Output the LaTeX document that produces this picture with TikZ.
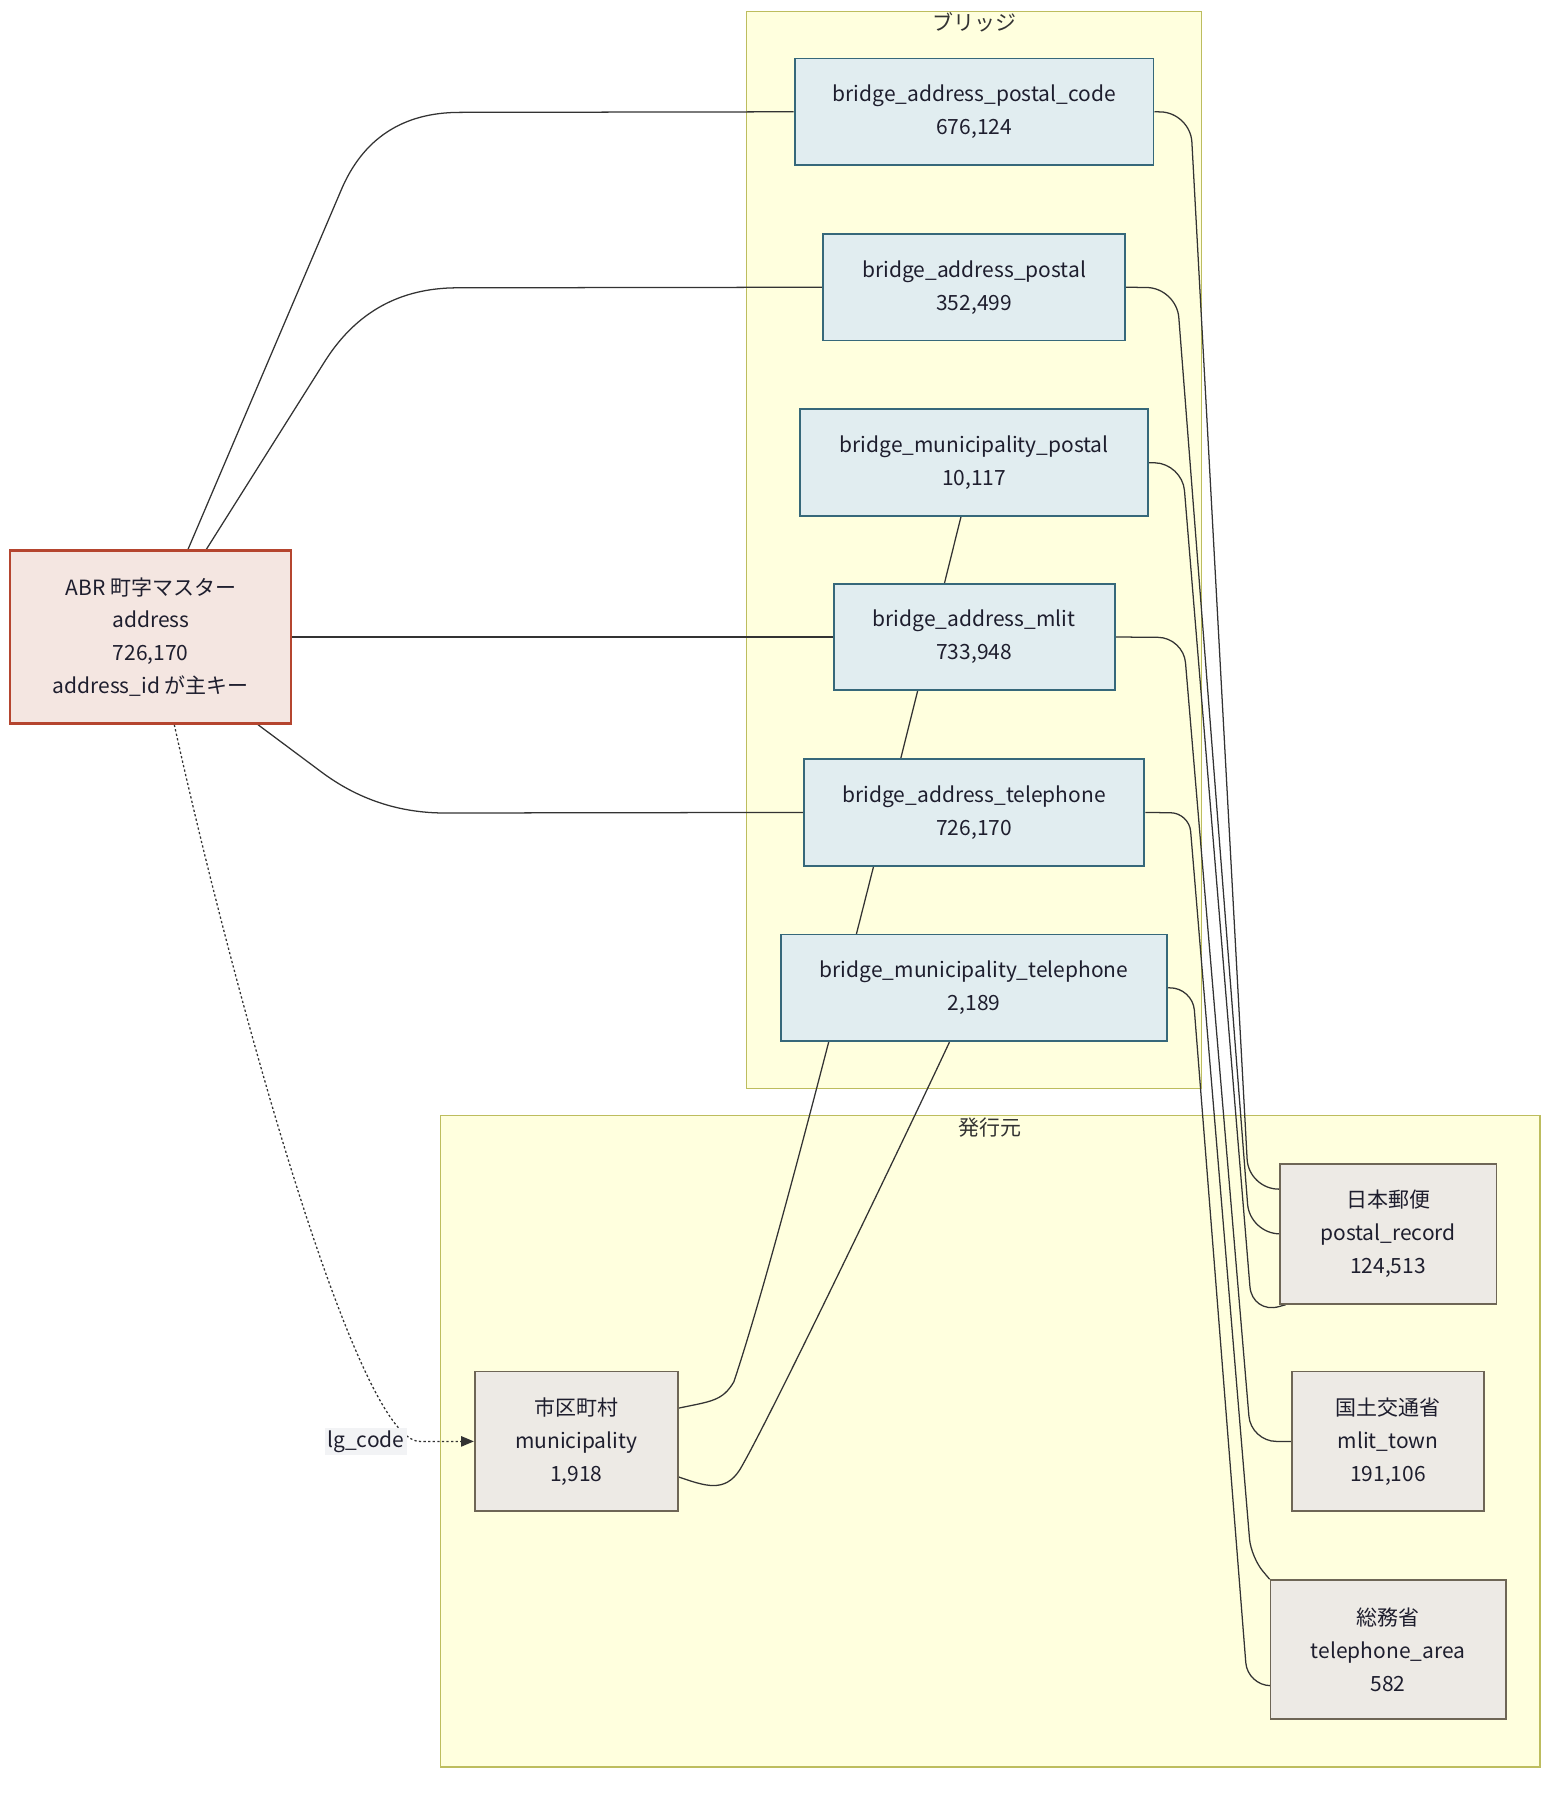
\documentclass[tikz,border=0pt]{standalone}
\usepackage{fontspec}
\setmainfont{Noto Sans CJK JP}
\usetikzlibrary{arrows.meta}
\definecolor{grpfill}{HTML}{FFFFDE}
\definecolor{grpline}{HTML}{BDBD5E}
\definecolor{brgfill}{HTML}{E1EDF0}
\definecolor{brgline}{HTML}{36687A}
\definecolor{abrfill}{HTML}{F4E6E1}
\definecolor{abrline}{HTML}{B5452F}
\definecolor{srcfill}{HTML}{EDEAE5}
\definecolor{srcline}{HTML}{6E6656}
\definecolor{txt}{HTML}{1E1E2E}
\definecolor{lbl}{HTML}{333333}
\definecolor{edgecol}{HTML}{333333}
\definecolor{tagbg}{HTML}{F2F3F5}
\pgfdeclarelayer{grp}
\pgfdeclarelayer{wire}
\pgfsetlayers{grp,wire,main}

\begin{document}
\begin{tikzpicture}[x=1pt, y=-1pt,
		box/.style={draw, line width=1.6pt, inner sep=0pt, align=center, text=txt, font=\fontsize{18.3}{28.6}\selectfont},
		bridge/.style={box, draw=brgline, fill=brgfill, minimum height=93pt},
		source/.style={box, draw=srcline, fill=srcfill, minimum height=122pt},
		master/.style={box, draw=abrline, fill=abrfill, line width=2pt, minimum height=151pt},
		group/.style={draw=grpline, fill=grpfill, line width=1.2pt},
		grouptitle/.style={text=lbl, anchor=north, inner sep=0pt, font=\fontsize{18.3}{22}\selectfont},
		link/.style={draw=edgecol, line width=1.1pt},
		lgref/.style={link, dash pattern=on 2pt off 2pt, -{Triangle[length=11pt,width=9pt]}},
		tag/.style={fill=tagbg, text=txt, inner sep=2pt, font=\fontsize{18.3}{22}\selectfont}]
		%%%%% START %%%%%
		
		\useasboundingbox (0,0) rectangle (1367.4,1568);
		
		% bridge tables
		\node[bridge, minimum width=313pt] (pc) at (849.5,97.5) {bridge\_address\_postal\_code\\676,124};
		\node[bridge, minimum width=263pt] (pa) at (849.5,250.5) {bridge\_address\_postal\\352,499};
		\node[bridge, minimum width=303pt] (mp) at (849.5,403.5) {bridge\_municipality\_postal\\10,117};
		\node[bridge, minimum width=245pt] (ml) at (849.5,555.5) {bridge\_address\_mlit\\733,948};
		\node[bridge, minimum width=297pt] (tel) at (849.5,708.5) {bridge\_address\_telephone\\726,170};
		\node[bridge, minimum width=337pt] (mt) at (849.5,861.5) {bridge\_municipality\_telephone\\2,189};
		
		% master and sources
		\node[master, minimum width=245pt] (abr) at (131.5,555.5) {ABR 町字マスター\\address\\726,170\\address\_id が主キー};
		\node[source, minimum width=189pt] (jp) at (1210.5,1076) {日本郵便\\postal\_record\\124,513};
		\node[source, minimum width=167pt] (mlit) at (1210.5,1257) {国土交通省\\mlit\_town\\191,106};
		\node[source, minimum width=205pt, minimum height=121pt] (soumu) at (1210.5,1438.5) {総務省\\telephone\_area\\582};
		\node[source, minimum width=177pt] (muni) at (502.5,1257) {市区町村\\municipality\\1,918};
		
		\node[tag] (lg) at (319,1257) {lg\_code};
		
		\begin{pgfonlayer}{grp}
			\draw[group] (651,10) rectangle (1048,949);
			\node[grouptitle] (brtitle) at (849.5,11) {ブリッジ};
			\draw[group] (384,973) rectangle (1343,1541);
			\node[grouptitle] (srctitle) at (863.5,975) {発行元};
		\end{pgfonlayer}
		
		\begin{pgfonlayer}{wire}
			% master to bridges
			\draw[link] ([xshift=32.5pt]abr.north) -- (297,167) .. controls (316,121) and (351,98) .. (401,98) -- (pc.west);
			\draw[link] ([xshift=48.5pt]abr.north) -- (284,314) .. controls (311,272) and (349,251) .. (399,251) -- (pa.west);
			\draw[link] (abr.east) -- (ml.west);
			\draw[link] ([xshift=93.5pt]abr.south) -- (280,673) .. controls (312,697) and (348,709) .. (388,709) -- (tel.west);
			\draw[lgref] ([xshift=20.5pt]abr.south) .. controls (200,850) and (310,1257) .. (366,1257) -- (muni.west);
			
			% bridges to sources
			\draw[link, rounded corners=26pt] (pc.east) -- (1038,98) -- (1089,1037) -- ([yshift=39pt]jp.west);
			\draw[link, rounded corners=26pt] (pa.east) -- (1026,251) -- (1090,1076) -- (jp.west);
			\draw[link, rounded corners=24pt] (mp.east) -- (1031,404) -- (1092,1146) -- ([xshift=6pt]jp.south west);
			\draw[link, rounded corners=22pt] (ml.east) -- (1032,556) -- (1091,1257) -- (mlit.west);
			\draw[link, rounded corners=16pt] (tel.east) -- (1037,709) -- (1091,1358) -- (soumu.north west);
			\draw[link, rounded corners=20pt] (mt.east) -- (1040,861) -- (1088,1470) -- ([yshift=-31.5pt]soumu.west);
			
			% municipality bridges
			\draw[link] ([xshift=-11.5pt]mp.south) .. controls (739,850) and (675,1100) .. (640,1205) .. controls (630,1222) and (620,1222) .. ([yshift=29pt]muni.east);
			\draw[link] ([xshift=-21.5pt]mt.south) .. controls (790,990) and (670,1240) .. (645,1282) .. controls (632,1302) and (615,1296) .. ([yshift=-31pt]muni.east);
		\end{pgfonlayer}
		
		%%%%% END %%%%%
	\end{tikzpicture}
\end{document}
